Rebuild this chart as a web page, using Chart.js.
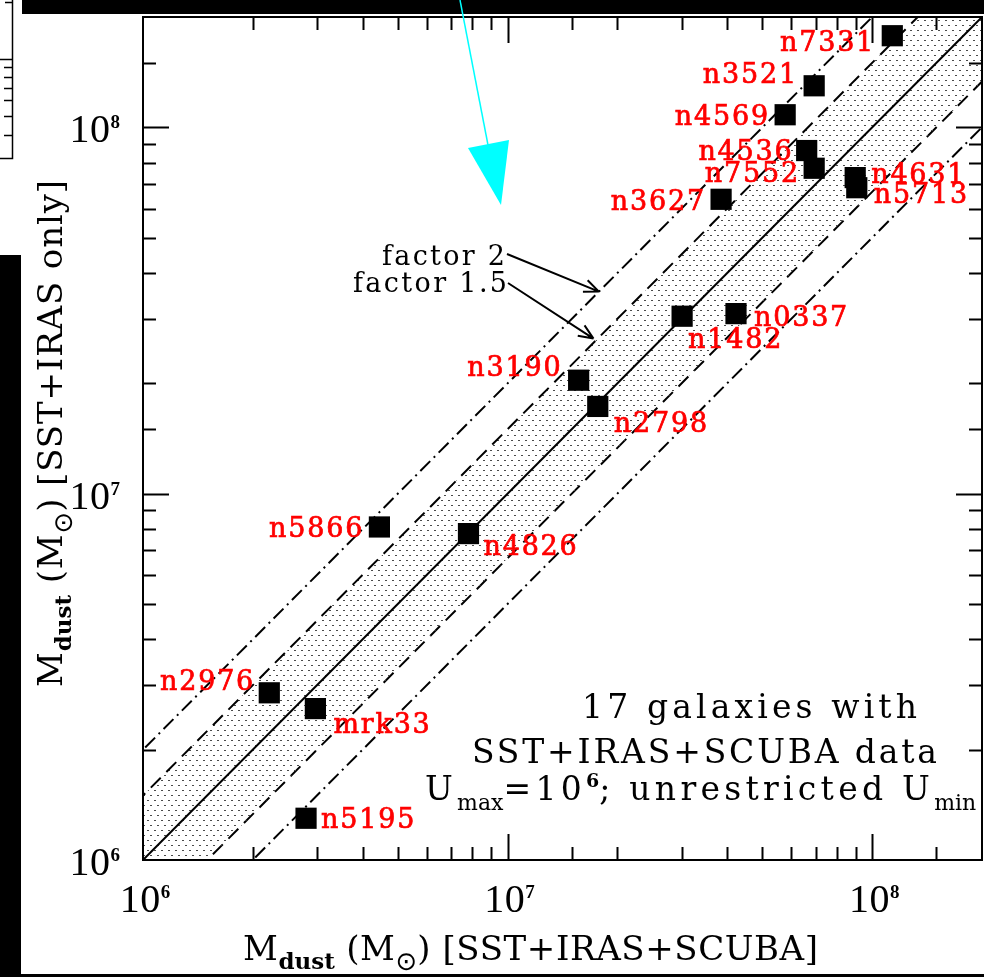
<!DOCTYPE html>
<html>
<head>
<meta charset="utf-8">
<script src="https://cdn.jsdelivr.net/npm/chart.js@4.4.1/dist/chart.umd.min.js"></script>
<style>
  html, body { margin: 0; padding: 0; background: #fff; overflow: hidden; }
  #wrap { width: 984px; height: 977px; position: relative; }
</style>
</head>
<body>
<div id="wrap"><canvas id="c" width="984" height="977"></canvas></div>
<script>
// Galaxy names and dust masses (solar masses)
const galaxies = ['n7331', 'n3521', 'n4569', 'n4536', 'n7552', 'n4631', 'n5713', 'n3627',
                  'n1482', 'n0337', 'n3190', 'n2798', 'n4826', 'n5866', 'n2976', 'mrk33', 'n5195'];
// M_dust from SST+IRAS+SCUBA fits (x)
const massWithScuba = [1.135e8, 6.93e7, 5.77e7, 6.61e7, 6.93e7, 8.98e7, 9.07e7, 3.85e7,
                       3.01e7, 4.23e7, 1.566e7, 1.767e7, 7.81e6, 4.45e6, 2.22e6, 2.97e6, 2.80e6];
// M_dust from SST+IRAS only fits (y)
const massIrasOnly = [1.778e8, 1.298e8, 1.082e8, 8.64e7, 7.73e7, 7.29e7, 6.84e7, 6.36e7,
                      3.05e7, 3.10e7, 2.04e7, 1.73e7, 7.78e6, 8.11e6, 2.86e6, 2.59e6, 1.30e6];
// Reference lines y = k * x
const ratioFactors = [2, 1.5, 1, 1 / 1.5, 0.5];
const lineSpan = [1e5, 1e9];
const axisRange = [1e6, 2e8];
const tickLabelPowers = [6, 7, 8];
const annotationTargets = [{ x: 1.78e7, y: 3.56e7 }, { x: 1.72e7, y: 2.65e7 }];

// Where each name sits relative to its marker: [dx, dy, align]
const labelPlacement = [
  [-19, 5, 'right'], [-18, -13, 'right'], [-17, 0, 'right'], [-15, -1, 'right'],
  [-16, 4, 'right'], [16, -5, 'left'], [17, 5, 'left'], [-17, 1, 'right'],
  [6, 22, 'left'], [18, 2, 'left'], [-18, -14, 'right'], [16, 16, 'left'],
  [15, 11, 'left'], [-17, 0, 'right'], [-16, -13, 'right'], [18, 14, 'left'], [15, 0, 'left']
];

const SERIF = '"DejaVu Serif", serif';
const DIGITS = '"Liberation Serif", serif';

// Stipple used for the factor-1.5 band
function makeStipple() {
  const t = document.createElement('canvas');
  t.width = 7; t.height = 10;
  const g = t.getContext('2d');
  g.fillStyle = '#4a4a4a';
  g.fillRect(0, 0, 2, 1);
  g.fillRect(3, 5, 2, 1);
  return g.createPattern(t, 'repeat');
}

// ---------- small text helpers (segments with sub/superscripts) ----------
// A segment flagged "tight" keeps its natural spacing.
function segWidth(ctx, s, sp) {
  ctx.font = s.font;
  ctx.letterSpacing = '0px';
  const k = s.tight ? 0 : sp;
  return ctx.measureText(s.t).width + k * [...s.t].length;
}
function fitSpacing(ctx, segs, target) {
  const nat = segs.reduce((a, s) => a + segWidth(ctx, s, 0), 0);
  const n = segs.reduce((a, s) => a + (s.tight ? 0 : [...s.t].length), 0);
  return (target - nat) / Math.max(1, n - 1);
}
function drawSegs(ctx, segs, x, y, sp, align, weight) {
  const total = segs.reduce((a, s) => a + segWidth(ctx, s, sp), 0) - sp;
  let cx = align === 'right' ? x - total : align === 'center' ? x - total / 2 : x;
  ctx.textAlign = 'left';
  ctx.textBaseline = 'alphabetic';
  for (const s of segs) {
    const w = segWidth(ctx, s, sp);
    ctx.font = s.font;
    ctx.letterSpacing = (s.tight ? 0 : sp) + 'px';
    ctx.fillText(s.t, cx, y + (s.dy || 0));
    if (weight) {
      ctx.lineWidth = weight;
      ctx.strokeText(s.t, cx, y + (s.dy || 0));
    }
    cx += w;
  }
  ctx.letterSpacing = '0px';
}
function mdustSegs(bracket) {
  return [
    { t: 'M', font: '34px ' + SERIF },
    { t: 'dust', font: 'bold 23px ' + SERIF, dy: 9, tight: true },
    { t: ' (M', font: '34px ' + SERIF },
    { t: '\u2299', font: '26px "DejaVu Sans", sans-serif', dy: 10, tight: true },
    { t: ') ' + bracket, font: '34px ' + SERIF }
  ];
}

const decorPlugin = {
  id: 'decor',
  beforeDraw(chart) {
    const ctx = chart.ctx;
    ctx.save();
    ctx.fillStyle = '#fff';
    ctx.fillRect(0, 0, chart.width, chart.height);
    ctx.restore();
  },
  afterDatasetsDraw(chart) {
    const ctx = chart.ctx;
    const xs = chart.scales.x, ys = chart.scales.y;
    const a = chart.chartArea;
    ctx.save();

    // galaxy names
    const meta = chart.getDatasetMeta(0);
    ctx.fillStyle = '#ff0000';
    ctx.strokeStyle = '#ff0000';
    meta.data.forEach((pt, i) => {
      const [dx, dy, al] = labelPlacement[i];
      drawSegs(ctx, [{ t: galaxies[i], font: '27px ' + SERIF }], pt.x + dx, pt.y + dy + 10, 1.8, al, 0.7);
    });

    // frame
    ctx.strokeStyle = '#000';
    ctx.lineWidth = 2;
    ctx.strokeRect(a.left, a.top, a.right - a.left, a.bottom - a.top);

    // inward ticks on all four sides
    const isPow = v => Math.abs(Math.log10(v) - Math.round(Math.log10(v))) < 1e-6;
    ctx.lineWidth = 2;
    ctx.beginPath();
    xs.ticks.forEach(t => {
      const px = Math.round(xs.getPixelForValue(t.value)) + 0.5;
      if (px <= a.left + 1 || px >= a.right - 1) return;
      const L = isPow(t.value) ? 26 : 13;
      ctx.moveTo(px, a.bottom); ctx.lineTo(px, a.bottom - L);
      ctx.moveTo(px, a.top); ctx.lineTo(px, a.top + L);
    });
    ys.ticks.forEach(t => {
      const py = Math.round(ys.getPixelForValue(t.value)) + 0.5;
      if (py <= a.top + 1 || py >= a.bottom - 1) return;
      const L = isPow(t.value) ? 26 : 13;
      ctx.moveTo(a.left, py); ctx.lineTo(a.left + L, py);
      ctx.moveTo(a.right, py); ctx.lineTo(a.right - L, py);
    });
    ctx.stroke();

    // tick labels 10^n
    ctx.fillStyle = '#000';
    tickLabelPowers.forEach(p => {
      const segs = [
        { t: '10', font: '40px ' + DIGITS },
        { t: String(p), font: 'bold 19px ' + DIGITS, dy: -14 }
      ];
      drawSegs(ctx, segs, xs.getPixelForValue(Math.pow(10, p)) + 2, 912, 0.5, 'center');
      drawSegs(ctx, segs, a.left - 23, ys.getPixelForValue(Math.pow(10, p)) + 15, 0.5, 'right');
    });

    // axis titles
    const xt = mdustSegs('[SST+IRAS+SCUBA]');
    drawSegs(ctx, xt, 243, 960, fitSpacing(ctx, xt, 575), 'left');
    const yt = mdustSegs('[SST+IRAS only]');
    ctx.save();
    ctx.translate(62, 687);
    ctx.rotate(-Math.PI / 2);
    drawSegs(ctx, yt, 0, 0, fitSpacing(ctx, yt, 507), 'left');
    ctx.restore();

    // description block
    const l1 = [{ t: '17 galaxies with', font: '33px ' + SERIF }];
    drawSegs(ctx, l1, 582, 718, fitSpacing(ctx, l1, 335), 'left');
    const l2 = [{ t: 'SST+IRAS+SCUBA data', font: '33px ' + SERIF }];
    drawSegs(ctx, l2, 472, 763, fitSpacing(ctx, l2, 465), 'left');
    const l3 = [
      { t: 'U', font: '33px ' + SERIF },
      { t: 'max', font: '22px ' + SERIF, dy: 10, tight: true },
      { t: '=10', font: '33px ' + SERIF },
      { t: '6', font: 'bold 19px ' + SERIF, dy: -13, tight: true },
      { t: '; unrestricted U', font: '33px ' + SERIF },
      { t: 'min', font: '22px ' + SERIF, dy: 10, tight: true }
    ];
    drawSegs(ctx, l3, 425, 800, fitSpacing(ctx, l3, 547), 'left');

    // factor annotations with arrows
    const f1 = [{ t: 'factor 2', font: '27px ' + SERIF }];
    drawSegs(ctx, f1, 382, 265, fitSpacing(ctx, f1, 123), 'left');
    const f2 = [{ t: 'factor 1.5', font: '27px ' + SERIF }];
    drawSegs(ctx, f2, 353, 292, fitSpacing(ctx, f2, 154), 'left');
    const starts = [[507, 254], [508, 283]];
    ctx.lineWidth = 2;
    ctx.strokeStyle = '#000';
    annotationTargets.forEach((tg, i) => {
      const tx = xs.getPixelForValue(tg.x), ty = ys.getPixelForValue(tg.y);
      const [sx, sy] = starts[i];
      const ang = Math.atan2(ty - sy, tx - sx);
      ctx.beginPath();
      ctx.moveTo(sx, sy); ctx.lineTo(tx, ty);
      [0.4, -0.4].forEach(d => {
        ctx.moveTo(tx, ty);
        ctx.lineTo(tx - 16 * Math.cos(ang + d), ty - 16 * Math.sin(ang + d));
      });
      ctx.stroke();
    });
    ctx.restore();
  },
  afterDraw(chart) {
    const ctx = chart.ctx;
    ctx.save();
    // dark borders around the panel
    ctx.fillStyle = '#000';
    ctx.fillRect(22, 0, 962, 14);
    ctx.fillRect(0, 255, 21, 722);
    ctx.fillRect(0, 974, 984, 3);
    // neighbouring axis fragment at the upper left
    ctx.strokeStyle = '#000';
    ctx.lineWidth = 1.5;
    ctx.beginPath();
    ctx.moveTo(12.5, 0); ctx.lineTo(12.5, 158.5); ctx.lineTo(0, 158.5);
    [[2, 5], [59, 0], [67, 4], [77, 4], [88, 4], [100, 4], [116, 4], [135, 4]].forEach(([y, x0]) => {
      ctx.moveTo(x0, y + 0.5); ctx.lineTo(12.5, y + 0.5);
    });
    ctx.stroke();
    // cyan pointer
    ctx.strokeStyle = '#00ffff';
    ctx.fillStyle = '#00ffff';
    ctx.lineWidth = 1.5;
    ctx.beginPath();
    ctx.moveTo(460, 0); ctx.lineTo(488, 145);
    ctx.stroke();
    ctx.beginPath();
    ctx.moveTo(468, 148); ctx.lineTo(509, 140); ctx.lineTo(501, 205);
    ctx.closePath();
    ctx.fill();
    ctx.restore();
  }
};

const stipple = makeStipple();
const refLine = k => lineSpan.map(v => ({ x: v, y: v * k }));
const dashStyles = [[14, 5, 2, 5], [14, 8], [], [14, 8], [14, 5, 2, 5]];

const datasets = [
  {
    label: 'galaxies',
    data: galaxies.map((n, i) => ({ x: massWithScuba[i], y: massIrasOnly[i] })),
    pointStyle: 'rect',
    pointRadius: 15,
    pointHoverRadius: 15,
    backgroundColor: '#000',
    borderWidth: 0,
    showLine: false,
    order: 0
  },
  {
    label: 'upper 1.5', data: refLine(ratioFactors[1]), showLine: true, pointRadius: 0,
    borderColor: '#000', borderWidth: 2, borderDash: dashStyles[1],
    backgroundColor: stipple, fill: 2, clip: 0, order: 2
  },
  {
    label: 'lower 1.5', data: refLine(ratioFactors[3]), showLine: true, pointRadius: 0,
    borderColor: '#000', borderWidth: 2, borderDash: dashStyles[3], fill: false, clip: 0, order: 2
  },
  {
    label: 'equal', data: refLine(ratioFactors[2]), showLine: true, pointRadius: 0,
    borderColor: '#000', borderWidth: 2, borderDash: dashStyles[2], fill: false, clip: 0, order: 1
  },
  {
    label: 'upper 2', data: refLine(ratioFactors[0]), showLine: true, pointRadius: 0,
    borderColor: '#000', borderWidth: 2, borderDash: dashStyles[0], fill: false, clip: 0, order: 1
  },
  {
    label: 'lower 2', data: refLine(ratioFactors[4]), showLine: true, pointRadius: 0,
    borderColor: '#000', borderWidth: 2, borderDash: dashStyles[4], fill: false, clip: 0, order: 1
  }
];

const logAxis = {
  type: 'logarithmic',
  min: axisRange[0],
  max: axisRange[1],
  ticks: { display: false },
  grid: { display: false, drawTicks: false },
  border: { display: false },
  title: { display: false }
};

new Chart(document.getElementById('c'), {
  type: 'scatter',
  data: { datasets },
  options: {
    responsive: false,
    animation: false,
    devicePixelRatio: 1,
    layout: { autoPadding: false, padding: { left: 143, right: 2, top: 17, bottom: 117 } },
    scales: { x: { ...logAxis }, y: { ...logAxis } },
    plugins: { legend: { display: false }, tooltip: { enabled: false } },
    elements: { line: { tension: 0 } }
  },
  plugins: [decorPlugin]
});
</script>
</body>
</html>
